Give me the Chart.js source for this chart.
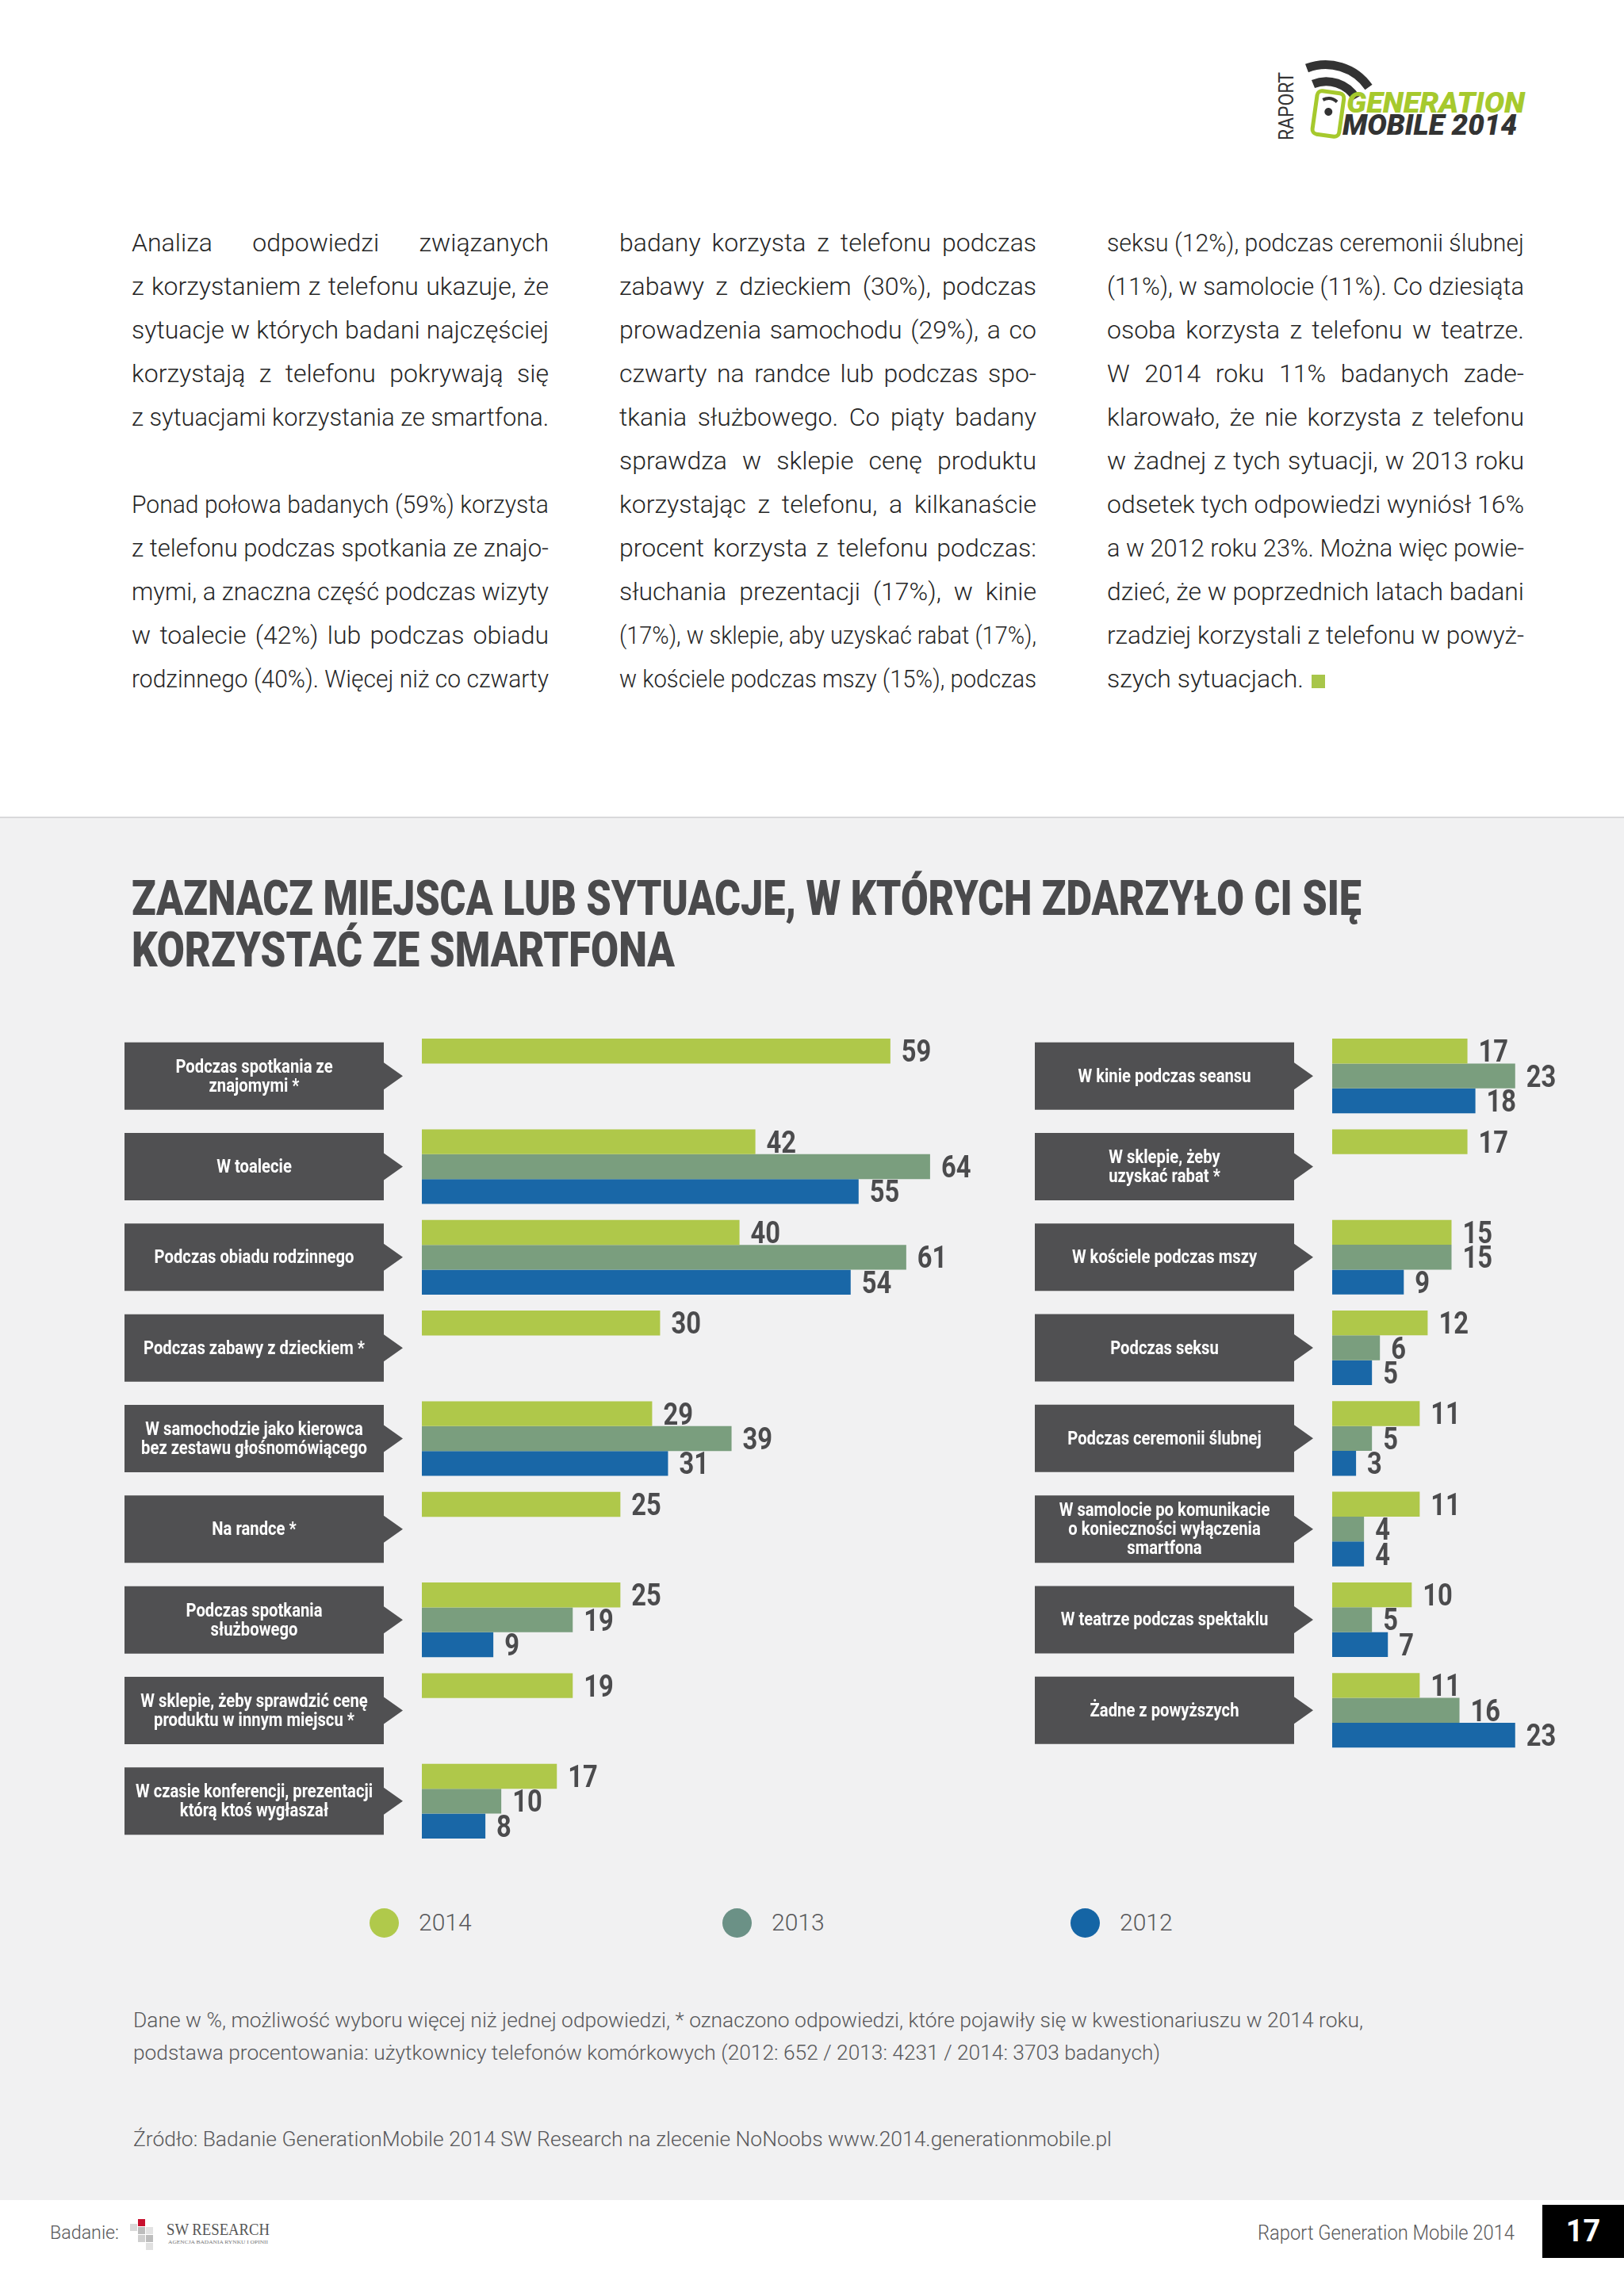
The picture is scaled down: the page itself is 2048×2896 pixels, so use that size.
<!DOCTYPE html>
<html lang="pl"><head><meta charset="utf-8"><title>Generation Mobile 2014 – smartfon</title>
<script src="https://cdn.jsdelivr.net/npm/chart.js@4.4.1/dist/chart.umd.min.js"></script>
<style>
html,body{margin:0;padding:0;background:#fff;}
body{position:relative;width:2048px;height:2896px;overflow:hidden;font-family:Roboto,"Open Sans",sans-serif;}
.a{position:absolute;white-space:nowrap;}
.fit{display:inline-block;transform-origin:0 50%;}
.col{position:absolute;top:279px;width:526px;}
.ln{height:55px;line-height:55px;font-size:32px;font-weight:300;color:#262626;white-space:nowrap;}
.ln > span{display:inline-block;transform-origin:0 50%;}
.sq{display:inline-block;width:17px;height:17px;background:#a8c64a;vertical-align:-1px;margin-left:10px;}
#gray{position:absolute;left:0;top:1030px;width:2048px;height:1743px;background:#f1f1f2;border-top:2px solid #d9d9db;}
.title{left:166px;font-weight:900;font-size:61px;line-height:65px;color:#4a4a4c;}
.note{left:168px;font-size:26px;line-height:40px;font-weight:300;color:#58585a;}
.leg{font-size:30px;font-weight:300;color:#58585a;line-height:40px;}
.dot{position:absolute;width:37px;height:37px;border-radius:50%;}
canvas{position:absolute;}
</style></head>
<body>
<div id="gray"></div>

<svg class="a" style="left:1600px;top:66px" width="340" height="124" viewBox="1600 66 340 124">
  <text transform="translate(1631,177) rotate(-90)" font-family="Roboto" font-size="25" fill="#333" textLength="86" lengthAdjust="spacingAndGlyphs">RAPORT</text>
  <path d="M1648 86 A66 66 0 0 1 1726 110" stroke="#333" stroke-width="11" fill="none"/>
  <path d="M1656 106 A44 44 0 0 1 1710 124" stroke="#333" stroke-width="11" fill="none"/>
  <g transform="rotate(8 1675 143)">
    <rect x="1658" y="116" width="34" height="55" rx="6" fill="#fff" stroke="#a6c92d" stroke-width="5"/>
    <path d="M1666 127 Q1675 121 1684 127" stroke="#333" stroke-width="4" fill="none"/>
    <circle cx="1675" cy="141" r="5" fill="#333"/>
  </g>
  <text x="1698" y="142" font-family="Roboto" font-weight="900" font-style="italic" font-size="36" fill="#a6c92d" textLength="225" lengthAdjust="spacingAndGlyphs">GENERATION</text>
  <text x="1693" y="170" font-family="Roboto" font-weight="900" font-style="italic" font-size="36" fill="#333" textLength="220" lengthAdjust="spacingAndGlyphs">MOBILE 2014</text>
</svg>

<div class="col" style="left:166px">
  <div class="ln"><span>Analiza odpowiedzi związanych</span></div>
  <div class="ln"><span>z korzystaniem z telefonu ukazuje, że</span></div>
  <div class="ln"><span>sytuacje w których badani najczęściej</span></div>
  <div class="ln"><span>korzystają z telefonu pokrywają się</span></div>
  <div class="ln"><span>z sytuacjami korzystania ze smartfona.</span></div>
  <div class="ln last"><span>&nbsp;</span></div>
  <div class="ln"><span>Ponad połowa badanych (59%) korzysta</span></div>
  <div class="ln"><span>z telefonu podczas spotkania ze znajo-</span></div>
  <div class="ln"><span>mymi, a znaczna część podczas wizyty</span></div>
  <div class="ln"><span>w toalecie (42%) lub podczas obiadu</span></div>
  <div class="ln"><span>rodzinnego (40%). Więcej niż co czwarty</span></div>
</div>
<div class="col" style="left:781px">
  <div class="ln"><span>badany korzysta z telefonu podczas</span></div>
  <div class="ln"><span>zabawy z dzieckiem (30%), podczas</span></div>
  <div class="ln"><span>prowadzenia samochodu (29%), a co</span></div>
  <div class="ln"><span>czwarty na randce lub podczas spo-</span></div>
  <div class="ln"><span>tkania służbowego. Co piąty badany</span></div>
  <div class="ln"><span>sprawdza w sklepie cenę produktu</span></div>
  <div class="ln"><span>korzystając z telefonu, a kilkanaście</span></div>
  <div class="ln"><span>procent korzysta z telefonu podczas:</span></div>
  <div class="ln"><span>słuchania prezentacji (17%), w kinie</span></div>
  <div class="ln"><span>(17%), w sklepie, aby uzyskać rabat (17%),</span></div>
  <div class="ln"><span>w kościele podczas mszy (15%), podczas</span></div>
</div>
<div class="col" style="left:1396px">
  <div class="ln"><span>seksu (12%), podczas ceremonii ślubnej</span></div>
  <div class="ln"><span>(11%), w samolocie (11%). Co dziesiąta</span></div>
  <div class="ln"><span>osoba korzysta z telefonu w teatrze.</span></div>
  <div class="ln"><span>W 2014 roku 11% badanych zade-</span></div>
  <div class="ln"><span>klarowało, że nie korzysta z telefonu</span></div>
  <div class="ln"><span>w żadnej z tych sytuacji, w 2013 roku</span></div>
  <div class="ln"><span>odsetek tych odpowiedzi wyniósł 16%</span></div>
  <div class="ln"><span>a w 2012 roku 23%. Można więc powie-</span></div>
  <div class="ln"><span>dzieć, że w poprzednich latach badani</span></div>
  <div class="ln"><span>rzadziej korzystali z telefonu w powyż-</span></div>
  <div class="ln last"><span>szych sytuacjach.<i class="sq"></i></span></div>
</div>

<div class="a title" style="top:1101px"><span class="fit" data-w="1551">ZAZNACZ MIEJSCA LUB SYTUACJE, W KTÓRYCH ZDARZYŁO CI SIĘ</span></div>
<div class="a title" style="top:1166px"><span class="fit" data-w="685">KORZYSTAĆ ZE SMARTFONA</span></div>

<canvas id="cl" width="1140" height="1050" style="left:150px;top:1290px"></canvas>
<canvas id="cr" width="745" height="935" style="left:1298px;top:1290px"></canvas>

<div id="legend"></div>

<div class="a note" style="top:2528px"><span class="fit" data-w="1551">Dane w %, możliwość wyboru więcej niż jednej odpowiedzi, * oznaczono odpowiedzi, które pojawiły się w kwestionariuszu w 2014 roku,</span></div>
<div class="a note" style="top:2569px"><span class="fit" data-w="1295">podstawa procentowania: użytkownicy telefonów komórkowych (2012: 652 / 2013: 4231 / 2014: 3703 badanych)</span></div>
<div class="a note" style="top:2678px"><span class="fit" data-w="1234">Źródło: Badanie GenerationMobile 2014 SW Research na zlecenie NoNoobs www.2014.generationmobile.pl</span></div>

<div class="a" style="left:63px;top:2798px;font-size:24px;line-height:36px;font-weight:300;color:#58585a"><span class="fit" data-w="87">Badanie:</span></div>
<svg class="a" style="left:160px;top:2795px" width="190" height="45" viewBox="0 0 190 45">
  <rect x="4" y="10" width="9" height="9" fill="#d9d9d9"/><rect x="14" y="4" width="9" height="9" fill="#c8102e"/>
  <rect x="14" y="14" width="9" height="9" fill="#bdbdbd"/><rect x="24" y="14" width="9" height="9" fill="#e3e3e3"/>
  <rect x="14" y="24" width="9" height="9" fill="#cfcfcf"/><rect x="24" y="24" width="9" height="9" fill="#bdbdbd"/>
  <rect x="24" y="34" width="9" height="9" fill="#e0e0e0"/>
  <text x="50" y="24" font-family="Liberation Serif" font-size="20" fill="#555" textLength="130" lengthAdjust="spacingAndGlyphs">SW RESEARCH</text>
  <text x="52" y="35" font-family="Liberation Serif" font-size="6" fill="#777" textLength="126" lengthAdjust="spacingAndGlyphs">AGENCJA BADANIA RYNKU I OPINII</text>
</svg>
<div class="a" style="left:1586px;top:2799px;font-size:25px;line-height:36px;font-weight:300;color:#58585a"><span class="fit" data-w="324">Raport Generation Mobile 2014</span></div>
<div class="a" style="left:1945px;top:2781px;width:103px;height:67px;background:#000;color:#fff;font-weight:700;font-size:38px;line-height:67px;text-align:center;">17</div>

<script>
// ---- data ----
const seriesNames = ['2014', '2013', '2012'];
const leftLabels = [
  ['Podczas spotkania ze', 'znajomymi *'],
  ['W toalecie'],
  ['Podczas obiadu rodzinnego'],
  ['Podczas zabawy z dzieckiem *'],
  ['W samochodzie jako kierowca', 'bez zestawu głośnomówiącego'],
  ['Na randce *'],
  ['Podczas spotkania', 'służbowego'],
  ['W sklepie, żeby sprawdzić cenę', 'produktu w innym miejscu *'],
  ['W czasie konferencji, prezentacji', 'którą ktoś wygłaszał']
];
const left2014 = [59, 42, 40, 30, 29, 25, 25, 19, 17];
const left2013 = [null, 64, 61, null, 39, null, 19, null, 10];
const left2012 = [null, 55, 54, null, 31, null, 9, null, 8];

const rightLabels = [
  ['W kinie podczas seansu'],
  ['W sklepie, żeby', 'uzyskać rabat *'],
  ['W kościele podczas mszy'],
  ['Podczas seksu'],
  ['Podczas ceremonii ślubnej'],
  ['W samolocie po komunikacie', 'o konieczności wyłączenia', 'smartfona'],
  ['W teatrze podczas spektaklu'],
  ['Żadne z powyższych']
];
const right2014 = [17, 17, 15, 12, 11, 11, 10, 11];
const right2013 = [23, null, 15, 6, 5, 4, 5, 16];
const right2012 = [18, null, 9, 5, 3, 4, 7, 23];

// ---- styles ----
const seriesColors = ['#afc84a', '#7a9e7e', '#1967a7'];
const legendColors = ['#b0c94b', '#6b9186', '#1565a5'];

const boxPlugin = {
  id: 'labelBoxes',
  beforeDatasetsDraw(chart) {
    const ctx = chart.ctx, ys = chart.scales.y;
    const L = 7, R = 334, T = 358, H = 42.5, AH = 17;
    chart.data.labels.forEach((lab, i) => {
      const cy = ys.getPixelForValue(i);
      ctx.save();
      ctx.fillStyle = '#505052';
      ctx.beginPath();
      ctx.moveTo(L, cy - H); ctx.lineTo(R, cy - H); ctx.lineTo(R, cy - AH); ctx.lineTo(T, cy);
      ctx.lineTo(R, cy + AH); ctx.lineTo(R, cy + H); ctx.lineTo(L, cy + H); ctx.closePath();
      ctx.fill();
      ctx.fillStyle = '#ffffff';
      ctx.font = '700 23px Roboto, "Open Sans", sans-serif';
      ctx.textAlign = 'center';
      ctx.textBaseline = 'alphabetic';
      const lines = Array.isArray(lab) ? lab : [lab];
      const lh = 24;
      lines.forEach((t, k) => {
        const ty = cy + (k - (lines.length - 1) / 2) * lh + 7.5;
        ctx.save();
        ctx.translate((L + R) / 2, ty);
        ctx.scale(0.88, 1);
        ctx.fillText(t, 0, 0);
        ctx.restore();
      });
      ctx.restore();
    });
  }
};

const valuePlugin = {
  id: 'valueLabels',
  afterDatasetsDraw(chart) {
    const ctx = chart.ctx;
    ctx.save();
    ctx.fillStyle = '#4b4b4d';
    ctx.font = '700 38px Roboto, "Open Sans", sans-serif';
    ctx.textAlign = 'left';
    ctx.textBaseline = 'alphabetic';
    chart.data.datasets.forEach((ds, di) => {
      const meta = chart.getDatasetMeta(di);
      meta.data.forEach((bar, i) => {
        const v = ds.data[i];
        if (v === null || v === undefined) return;
        ctx.save();
        ctx.translate(bar.x + 14, bar.y + 13.5);
        ctx.scale(0.86, 1);
        ctx.fillText(String(v), 0, 0);
        ctx.restore();
      });
    });
    ctx.restore();
  }
};

function makeChart(id, labels, d14, d13, d12, xMax, padRight, padBottom) {
  const data = [d14, d13, d12];
  return new Chart(document.getElementById(id), {
    type: 'bar',
    data: {
      labels: labels,
      datasets: data.map((d, k) => ({
        label: seriesNames[k],
        data: d,
        backgroundColor: seriesColors[k],
        borderWidth: 0
      }))
    },
    options: {
      indexAxis: 'y',
      responsive: false,
      animation: false,
      layout: { padding: { left: 382, right: padRight, top: 10, bottom: padBottom } },
      datasets: { bar: { categoryPercentage: 0.823, barPercentage: 1 } },
      scales: {
        x: { display: false, min: 0, max: xMax },
        y: { display: false }
      },
      plugins: { legend: { display: false }, tooltip: { enabled: false } }
    },
    plugins: [boxPlugin, valuePlugin]
  });
}

function fitAll() {
  document.querySelectorAll('.ln').forEach(div => {
    const sp = div.firstElementChild;
    sp.style.transform = ''; sp.style.wordSpacing = '';
    const target = 526;
    const w = sp.getBoundingClientRect().width;
    if (w > target) {
      sp.style.transform = 'scaleX(' + (target / w) + ')';
    } else if (!div.classList.contains('last')) {
      const n = (sp.textContent.match(/ /g) || []).length;
      if (n) sp.style.wordSpacing = ((target - w) / n) + 'px';
    }
  });
  document.querySelectorAll('[data-w]').forEach(el => {
    el.style.transform = '';
    const t = +el.dataset.w;
    const w = el.getBoundingClientRect().width;
    el.style.transform = 'scaleX(' + (t / w) + ')';
  });
}

function buildLegend() {
  const cx = [484, 929, 1368];
  const lg = document.getElementById('legend');
  seriesNames.forEach((n, k) => {
    const d = document.createElement('div');
    d.className = 'dot';
    d.style.left = (cx[k] - 18.5) + 'px';
    d.style.top = (2425 - 18.5) + 'px';
    d.style.background = legendColors[k];
    lg.appendChild(d);
    const t = document.createElement('div');
    t.className = 'a leg';
    t.style.left = (cx[k] + 44) + 'px';
    t.style.top = (2425 - 20) + 'px';
    t.textContent = n;
    lg.appendChild(t);
  });
}

buildLegend();
fitAll();
makeChart('cl', leftLabels, left2014, left2013, left2012, 70, 57, 11);
makeChart('cr', rightLabels, right2014, right2013, right2012, 30, 62, 10.6);
if (document.fonts && document.fonts.ready) document.fonts.ready.then(fitAll);
</script>
</body></html>
